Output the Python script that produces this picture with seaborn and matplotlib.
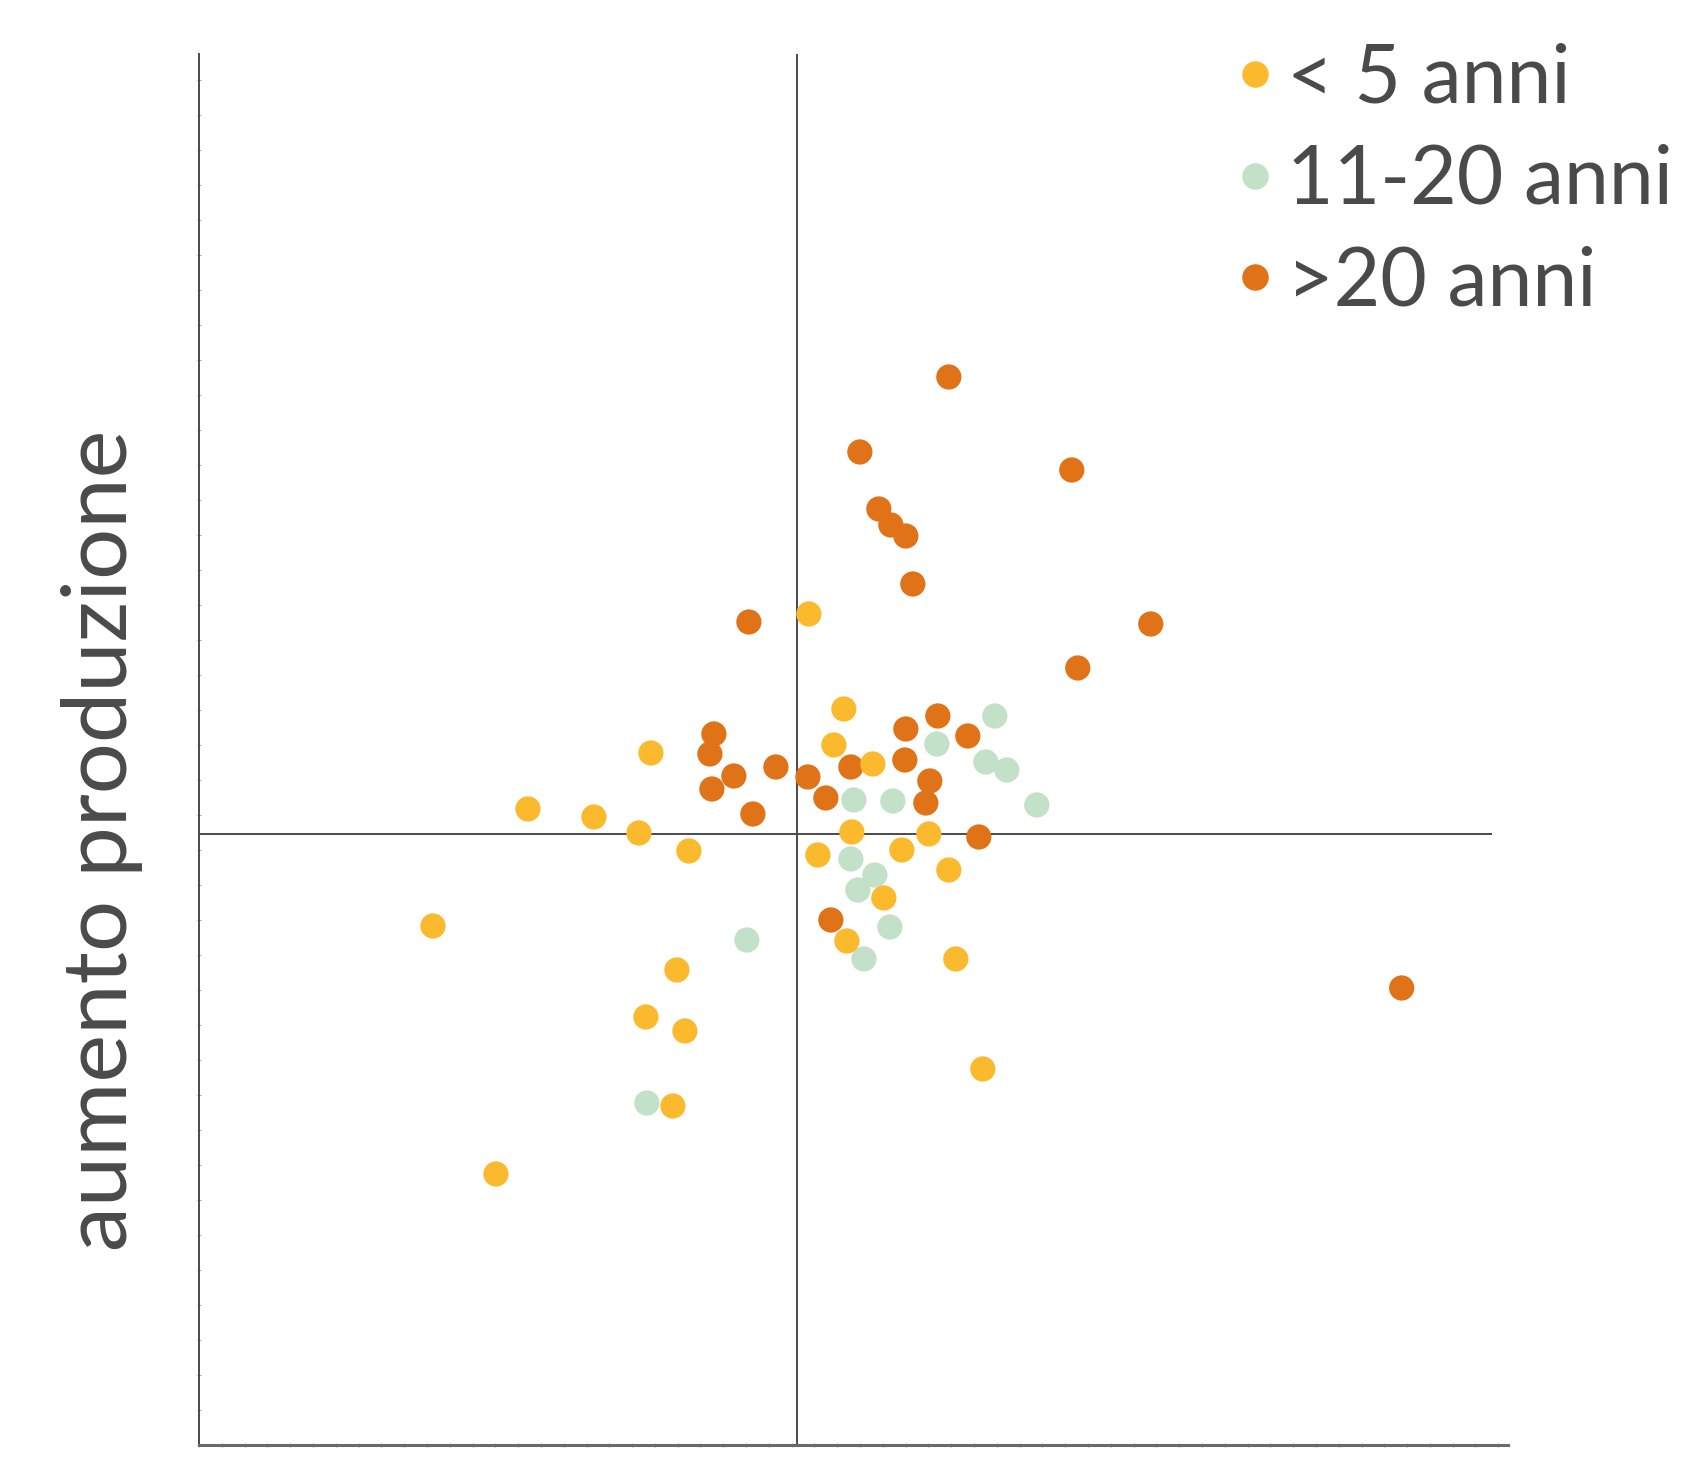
import numpy as np
import pandas as pd
import matplotlib
matplotlib.use("Agg")
import matplotlib.pyplot as plt
import seaborn as sns

# values (arbitrary units, origin at the cross)
young_x = [0.47, -1.46, 0.37, 0.76, -1.58, -1.08, 0.55, 1.32, 0.21, 1.05, 1.52, 0.87,
           0.50, 1.59, -1.20, 0.12, -2.69, -2.03, -3.64, -1.51, -1.12, -1.24, -3.01, 1.86]
young_y = [1.25, 0.81, 0.89, 0.70, 0.01, -0.17, 0.02, 0.00, -0.21, -0.16, -0.36, -0.64,
           -1.07, -1.25, -1.36, 2.20, 0.25, 0.17, -0.92, -1.83, -1.97, -2.72, -3.40, -2.35]

mid_x = [1.98, 1.40, 1.89, 2.10, 0.57, 0.96, 2.40, 0.54, 0.78, 0.61, 0.93, 0.67, -0.50, -1.50]
mid_y = [1.18, 0.90, 0.72, 0.64, 0.34, 0.33, 0.29, -0.25, -0.41, -0.56, -0.93, -1.25, -1.06, -2.69]

old_x = [1.41, 1.09, 1.71, -0.83, -0.87, 1.08, -0.21, 0.54, -0.63, 0.11, 1.33, -0.85, 0.29, 1.29,
         -0.44, 1.82, 0.34, 1.52, 0.63, 2.75, 0.82, 0.94, 1.09, 1.16, -0.48, 3.54, 2.81, 6.05]
old_y = [1.18, 1.05, 0.98, 1.00, 0.80, 0.74, 0.67, 0.67, 0.58, 0.57, 0.53, 0.45, 0.36, 0.31,
         0.20, -0.03, -0.86, 4.57, 3.82, 3.64, 3.25, 3.09, 2.98, 2.50, 2.12, 2.10, 1.66, -1.54]

groups = ["< 5 anni", "11-20 anni", ">20 anni"]
colors = ["#FBB92E", "#C3E0C8", "#E07218"]
ylabel = "aumento produzione"

df = pd.concat([
    pd.DataFrame({"x": old_x, "y": old_y, "eta": groups[2]}),
    pd.DataFrame({"x": mid_x, "y": mid_y, "eta": groups[1]}),
    pd.DataFrame({"x": young_x, "y": young_y, "eta": groups[0]}),
], ignore_index=True)

sns.set_style("white")
plt.rcParams["font.family"] = ["Lato", "DejaVu Sans"]
text_col = "#4A4A4A"

fig = plt.figure(figsize=(16.94, 14.79), dpi=100)
ax = fig.add_axes([0.1175, 0.023, 0.7725, 0.9405])

xlim = (-5.98, 7.11)
ylim = (-6.11, 7.80)

sns.scatterplot(data=df, x="x", y="y", hue="eta", hue_order=groups,
                palette=dict(zip(groups, colors)), s=330, linewidth=0,
                alpha=1, ax=ax, zorder=3)

ax.axvline(0, color=text_col, lw=1.4, zorder=2)
ax.hlines(0, xlim[0], 6.95, color=text_col, lw=1.4, zorder=2)

ax.set_xlim(*xlim)
ax.set_ylim(*ylim)
ax.set_xlabel("")
ax.set_ylabel("")

# faint little ticks along the frame, no labels
ax.set_xticks(np.arange(xlim[0], xlim[1], 0.228))
ax.set_yticks(np.arange(ylim[0], ylim[1], 0.35))
ax.tick_params(axis="both", which="both", direction="inout", length=3, width=0.6,
               color="#9a9a9a", labelbottom=False, labelleft=False,
               bottom=True, left=True)

sns.despine(ax=ax, top=True, right=True)
ax.spines["left"].set_color(text_col)
ax.spines["left"].set_linewidth(1.4)
ax.spines["bottom"].set_color("#6a6a6a")
ax.spines["bottom"].set_linewidth(2.2)

fig.text(0.060, 0.432, ylabel, rotation=90, ha="center", va="center",
         fontsize=65, color=text_col)

handles, labels = ax.get_legend_handles_labels()
leg = ax.legend(handles, labels, loc="upper left", bbox_to_anchor=(0.6933, 0.9986),
                bbox_transform=fig.transFigure, frameon=False, fontsize=58,
                markerscale=1.05, handletextpad=-0.1, labelspacing=0.34,
                handlelength=1.0, borderpad=0)
for t in leg.get_texts():
    t.set_color(text_col)

fig.savefig("out.png", dpi=100)
